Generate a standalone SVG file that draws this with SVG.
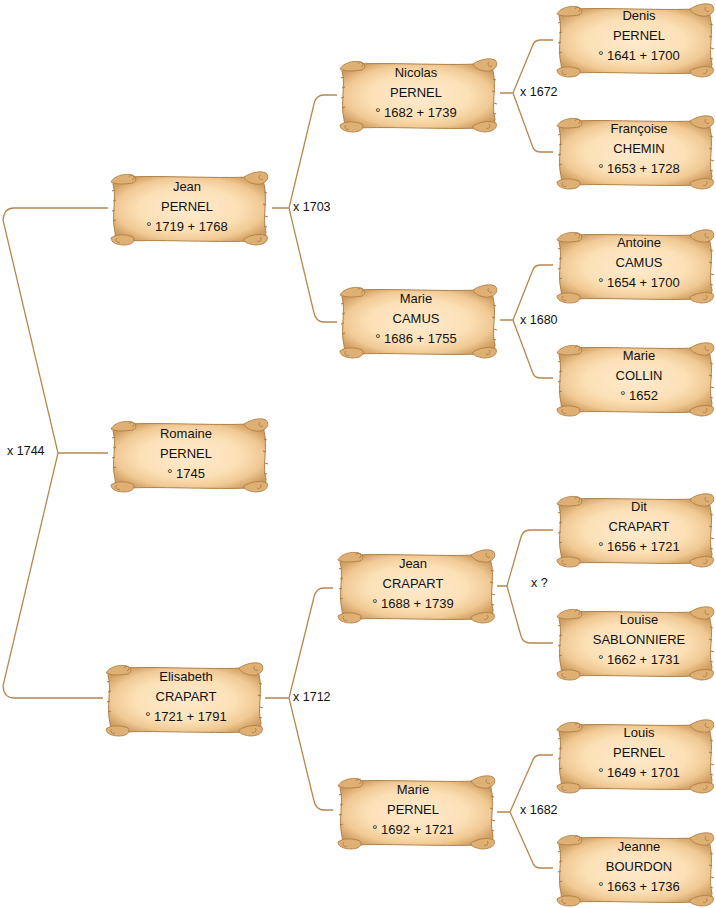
<svg xmlns="http://www.w3.org/2000/svg" xmlns:xlink="http://www.w3.org/1999/xlink" width="716" height="908" viewBox="0 0 716 908">
<style>
.t{font-family:"Liberation Sans",Arial,sans-serif;font-size:13px;fill:#111;text-anchor:middle}
.l{font-family:"Liberation Sans",Arial,sans-serif;font-size:12.5px;fill:#111}
.c{fill:none;stroke:#b8874f;stroke-width:1.3}
.curl{fill:#deb074;stroke:#a9793f;stroke-width:0.8}
.sp{fill:none;stroke:#a9793f;stroke-width:0.8}
</style>
<defs>
<radialGradient id="g" cx="50%" cy="50%" r="60%">
<stop offset="0%" stop-color="#feeacd"/>
<stop offset="55%" stop-color="#fce0b6"/>
<stop offset="80%" stop-color="#f0c994"/>
<stop offset="100%" stop-color="#cf9c5f"/>
</radialGradient>
<symbol id="scroll" viewBox="0 0 162 76" width="162" height="76">
<path d="M7,8 C40,4 120,10 154,6 L156,14 C160,30 154,48 158,62 L157,70 C120,74 40,68 8,72 L7,62 C3,46 9,28 5,14 Z" fill="url(#g)" stroke="#b08048" stroke-width="1"/>
<path d="M7,20 l-3,1 M8,30 l-3,1 M7,40 l-3,1 M8,50 l-3,1 M156,22 l3,1 M155,34 l3,1 M157,46 l3,1 M156,56 l3,1" stroke="#a77a45" stroke-width="1" fill="none"/>
<path class="curl" d="M3,12 C6,6 16,3 24,5 C29,7 29,11 25,13 C18,14 9,15 3,12 Z"/>
<path class="sp" d="M21,7 a2.5,2.5 0 1 1 3,3"/>
<path class="curl" d="M136,7 C142,3 152,0 158,3 C162,7 159,12 153,14 C146,15 138,12 136,7 Z"/>
<path class="sp" d="M152,5 a2.5,2.5 0 1 0 3,4"/>
<path class="curl" d="M3,68 C8,64 18,64 25,67 C28,71 24,75 16,75 C8,75 3,72 3,68 Z"/>
<path class="sp" d="M9,68 a2.5,2.5 0 1 0 3,4"/>
<path class="curl" d="M136,69 C142,65 152,63 159,66 C161,71 156,75 147,75 C140,74 135,72 136,69 Z"/>
<path class="sp" d="M152,67 a2.5,2.5 0 1 1 -3,4"/>
</symbol>
</defs>
<rect width="716" height="908" fill="#fff"/>
<g id="connectors">
<path class="c" d="M108,208 H14 Q4,208 3,220 L58,453 L3,686 Q4,698 14,698 H103 M58,453 H108"/>
<path class="c" d="M337,95 H324 Q316,95 314,104 L289,208 L314,313 Q316,322 324,322 H337 M272,208 H289"/>
<path class="c" d="M333,588 H324 Q316,588 314,597 L289,698 L314,801 Q316,810 324,810 H333 M265,698 H289"/>
<path class="c" d="M553,40 H540 Q534,40 532,47 L513,93 L532,145 Q534,152 540,152 H553 M500,93 H513"/>
<path class="c" d="M553,265 H540 Q534,265 532,272 L513,320 L532,371 Q534,378 540,378 H553 M500,320 H513"/>
<path class="c" d="M553,530 H530 Q523,530 521,537 L507,586 L521,636 Q523,643 530,643 H553 M497,586 H507"/>
<path class="c" d="M553,755 H540 Q534,755 532,762 L510,812 L532,861 Q534,868 540,868 H553 M497,812 H510"/>
<text class="l" x="7" y="455">x 1744</text>
<text class="l" x="293" y="211">x 1703</text>
<text class="l" x="293" y="701">x 1712</text>
<text class="l" x="520" y="96">x 1672</text>
<text class="l" x="520" y="324">x 1680</text>
<text class="l" x="531" y="587">x ?</text>
<text class="l" x="520" y="814">x 1682</text>
</g>
<g id="n-jean-pernel"><use xlink:href="#scroll" x="108" y="170"/><text class="t" x="187" y="191">Jean</text><text class="t" x="187" y="211">PERNEL</text><text class="t" x="187" y="231">° 1719 + 1768</text></g>
<g id="n-romaine-pernel"><use xlink:href="#scroll" x="108" y="417"/><text class="t" x="186" y="438">Romaine</text><text class="t" x="186" y="458">PERNEL</text><text class="t" x="186" y="478">° 1745</text></g>
<g id="n-elisabeth-crapart"><use xlink:href="#scroll" x="103" y="661"/><text class="t" x="186" y="681">Elisabeth</text><text class="t" x="186" y="701">CRAPART</text><text class="t" x="186" y="721">° 1721 + 1791</text></g>
<g id="n-nicolas-pernel"><use xlink:href="#scroll" x="337" y="57"/><text class="t" x="416" y="77">Nicolas</text><text class="t" x="416" y="97">PERNEL</text><text class="t" x="416" y="117">° 1682 + 1739</text></g>
<g id="n-marie-camus"><use xlink:href="#scroll" x="337" y="283"/><text class="t" x="416" y="303">Marie</text><text class="t" x="416" y="323">CAMUS</text><text class="t" x="416" y="343">° 1686 + 1755</text></g>
<g id="n-jean-crapart"><use xlink:href="#scroll" x="335" y="548"/><text class="t" x="413" y="568">Jean</text><text class="t" x="413" y="588">CRAPART</text><text class="t" x="413" y="608">° 1688 + 1739</text></g>
<g id="n-marie-pernel"><use xlink:href="#scroll" x="335" y="774"/><text class="t" x="413" y="794">Marie</text><text class="t" x="413" y="814">PERNEL</text><text class="t" x="413" y="834">° 1692 + 1721</text></g>
<g id="n-denis-pernel"><use xlink:href="#scroll" x="554" y="2"/><text class="t" x="639" y="20">Denis</text><text class="t" x="639" y="40">PERNEL</text><text class="t" x="639" y="60">° 1641 + 1700</text></g>
<g id="n-francoise-chemin"><use xlink:href="#scroll" x="554" y="114"/><text class="t" x="639" y="133">Françoise</text><text class="t" x="639" y="153">CHEMIN</text><text class="t" x="639" y="173">° 1653 + 1728</text></g>
<g id="n-antoine-camus"><use xlink:href="#scroll" x="554" y="228"/><text class="t" x="639" y="247">Antoine</text><text class="t" x="639" y="267">CAMUS</text><text class="t" x="639" y="287">° 1654 + 1700</text></g>
<g id="n-marie-collin"><use xlink:href="#scroll" x="554" y="341"/><text class="t" x="639" y="360">Marie</text><text class="t" x="639" y="380">COLLIN</text><text class="t" x="639" y="400">° 1652</text></g>
<g id="n-dit-crapart"><use xlink:href="#scroll" x="554" y="492"/><text class="t" x="639" y="511">Dit</text><text class="t" x="639" y="531">CRAPART</text><text class="t" x="639" y="551">° 1656 + 1721</text></g>
<g id="n-louise-sablonniere"><use xlink:href="#scroll" x="554" y="605"/><text class="t" x="639" y="624">Louise</text><text class="t" x="639" y="644">SABLONNIERE</text><text class="t" x="639" y="664">° 1662 + 1731</text></g>
<g id="n-louis-pernel"><use xlink:href="#scroll" x="554" y="718"/><text class="t" x="639" y="737">Louis</text><text class="t" x="639" y="757">PERNEL</text><text class="t" x="639" y="777">° 1649 + 1701</text></g>
<g id="n-jeanne-bourdon"><use xlink:href="#scroll" x="554" y="831"/><text class="t" x="639" y="851">Jeanne</text><text class="t" x="639" y="871">BOURDON</text><text class="t" x="639" y="891">° 1663 + 1736</text></g>
</svg>
